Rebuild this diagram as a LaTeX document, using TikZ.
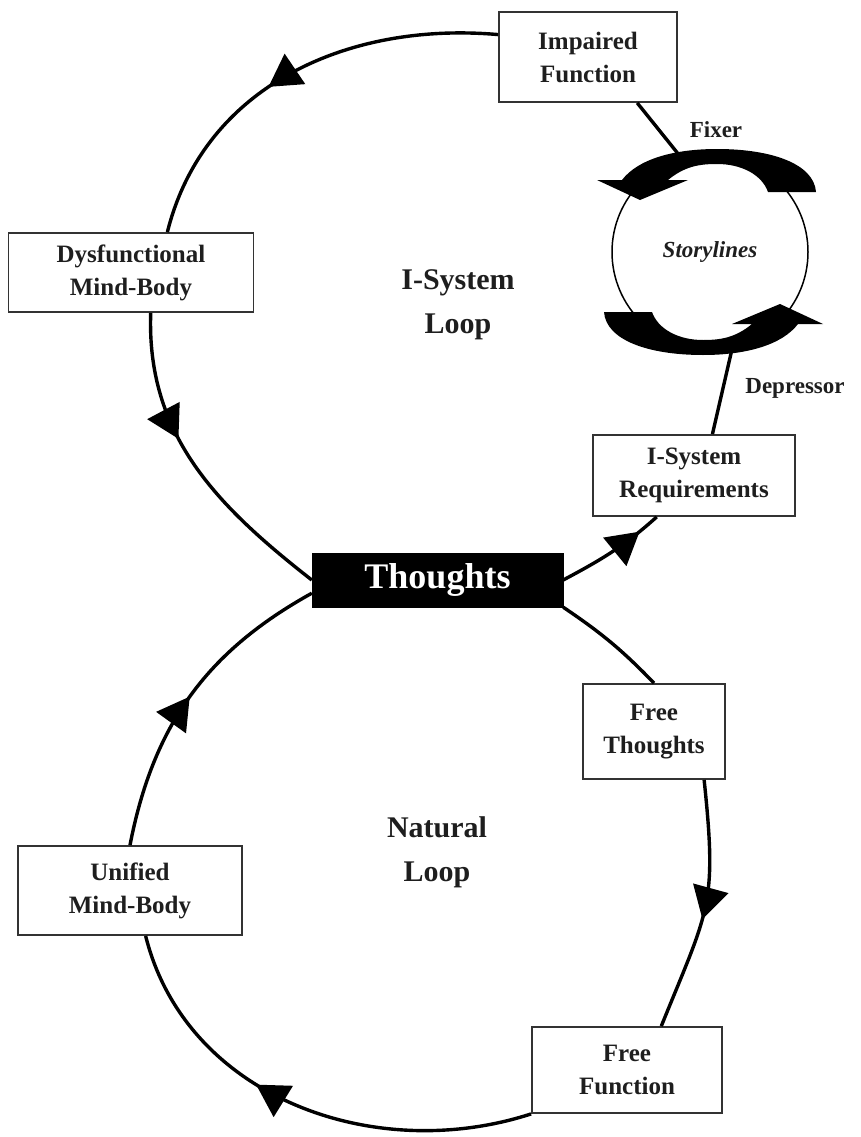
\documentclass[tikz,border=0pt]{standalone}
\usepackage{fontspec}
\setmainfont{Liberation Serif}
\usepackage{tikz}
\usetikzlibrary{arrows.meta,decorations.markings}
\definecolor{Ink}{HTML}{1E1E1E}
\definecolor{Frame}{HTML}{333333}
% one curved block arrow on the Storylines ring (drawn round its centre)
\newcommand{\storyband}{%
  \fill (58,60) -- (106,60)
    .. controls (104,88) and (62,103) .. (7,103)
    .. controls (-36,103) and (-72,93) .. (-88,72)
    -- (-113,72) -- (-70,52) -- (-22,72) -- (-42,72)
    .. controls (-25,86) and (-10,88) .. (7,88)
    .. controls (32,88) and (52,77) .. (58,60) -- cycle;}
\tikzset{
  box/.style={draw=Frame,line width=1.8pt,fill=white,align=center,inner sep=2pt,
              font=\fontsize{25}{33}\selectfont\bfseries,text=Ink},
  blackbox/.style={draw=black,fill=black,align=center,inner sep=2pt,
              font=\fontsize{36}{40}\selectfont\bfseries,text=white},
  ringnode/.style={draw=black,circle,line width=1.5pt,inner sep=0pt,
              font=\fontsize{23}{28}\selectfont\bfseries\itshape,text=Ink},
  looplabel/.style={align=center,font=\fontsize{30}{44}\selectfont\bfseries,text=Ink},
  note/.style={font=\fontsize{23}{28}\selectfont\bfseries,text=Ink},
  loopline/.style={line width=3.4pt,draw=black},
  midarrow/.style={postaction={decorate},decoration={markings,
              mark=at position #1 with {\arrow{Triangle[length=32pt,width=36pt]}}}}
}

\begin{document}
\begin{tikzpicture}[x=1pt,y=1pt]
  \useasboundingbox (0,0) rectangle (860,-1137);

  % I-System loop
  \node[box,minimum width=178pt,minimum height=90pt] (imp) at (588,-57) {Impaired\\Function};
  \node[box,minimum width=245pt,minimum height=79pt] (dys) at (131,-272.5) {Dysfunctional\\Mind-Body};
  \node[box,minimum width=202pt,minimum height=81pt] (req) at (694,-475.5) {I-System\\Requirements};
  \node[ringnode,minimum size=196pt] (sto) at (710,-252) {Storylines};
  \node[looplabel] (isys) at (458,-305) {I-System\\Loop};
  \node[note] (fixer) at (716,-130) {Fixer};
  \node[note] (depr) at (795,-388) {Depressor};

  \node[blackbox,minimum width=251pt,minimum height=54pt] (th) at (437.5,-580) {Thoughts};

  % Natural loop
  \node[box,minimum width=142pt,minimum height=95pt] (fth) at (654,-731.5) {Free\\Thoughts};
  \node[box,minimum width=190pt,minimum height=86pt] (ffn) at (627,-1070) {Free\\Function};
  \node[box,minimum width=224pt,minimum height=89pt] (uni) at (130,-890.5) {Unified\\Mind-Body};
  \node[looplabel] (nat) at (437,-852) {Natural\\Loop};

  \draw[loopline,midarrow=0.57] (imp.166) to[out=175,in=76] (dys.48);
  \draw[loopline,midarrow=0.4] (dys.-64) to[out=268,in=142] (th.west);
  \draw[loopline,midarrow=0.8] (th.east) to[out=28,in=222] (req.228);
  \draw[loopline] (req.66) -- (sto.-77);
  \draw[loopline] (sto.107) -- (imp.-43);

  \draw[loopline] (th.south east) to[out=-34,in=134] (fth.north);
  \draw[loopline,midarrow=0.55] (fth.-44) to[out=-84,in=68,looseness=1.3] (ffn.52);
  \draw[loopline,midarrow=0.6] (ffn.south west) to[out=198,in=-76] (uni.-71);
  \draw[loopline,midarrow=0.5] (uni.north) to[out=79,in=209] (th.186);

  \begin{scope}[shift={(sto.center)}]
    \storyband
  \end{scope}
  \begin{scope}[shift={(sto.center)},rotate=180]
    \storyband
  \end{scope}
\end{tikzpicture}
\end{document}
